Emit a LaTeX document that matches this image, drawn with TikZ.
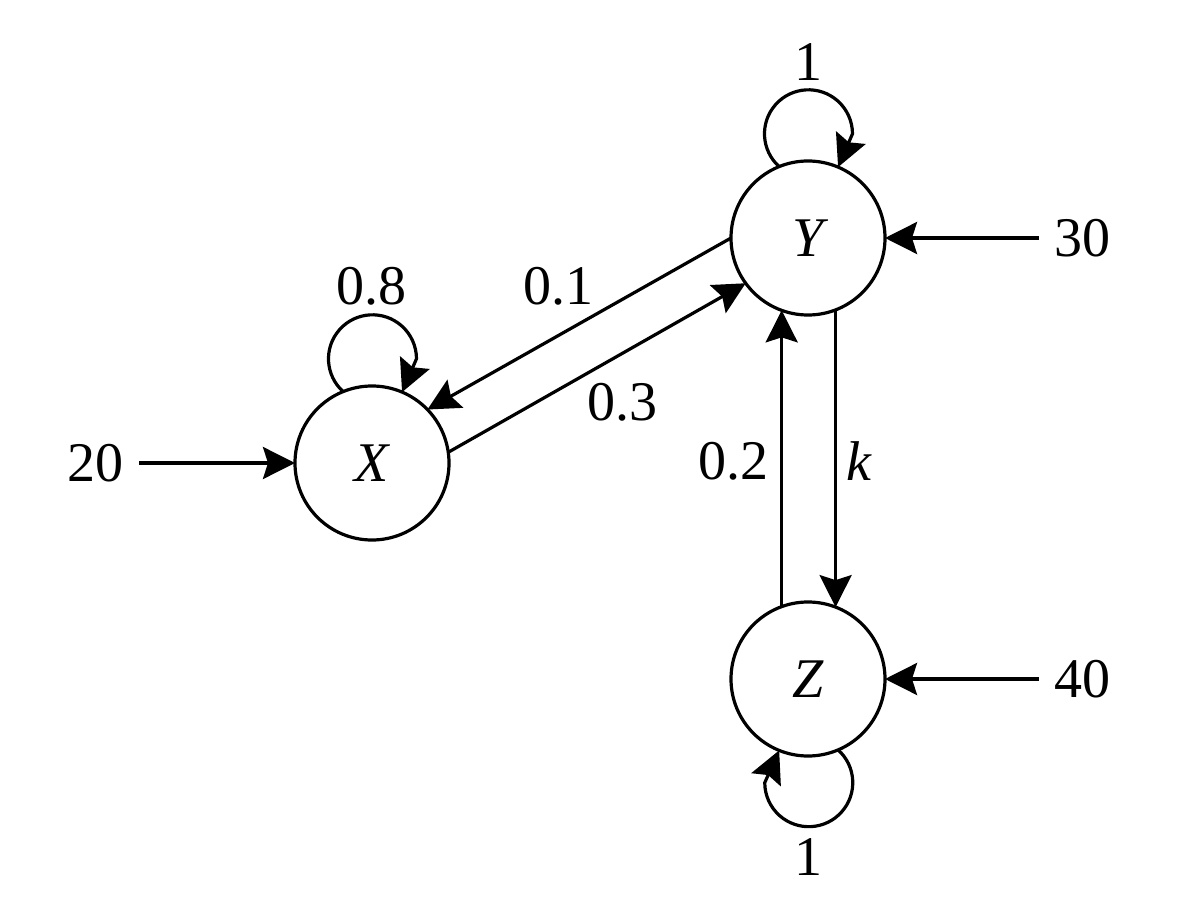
\documentclass[tikz,border=0pt]{standalone}
\usepackage{fontspec}
\setmainfont{Liberation Serif}
\usetikzlibrary{arrows.meta}
\begin{document}
\begin{tikzpicture}[x=0.5pt,y=0.5pt,
  state/.style={draw, circle, line width=1.6pt, minimum size=77pt, inner sep=0pt, outer sep=0pt, font=\fontsize{28}{34}\selectfont\itshape},
  lbl/.style={inner sep=0pt, font=\fontsize{28}{34}\selectfont},
  src/.style={inner sep=7.5pt, font=\fontsize{28}{34}\selectfont},
  edge/.style={line width=1.6pt, -{Stealth[length=16pt,width=16pt,inset=2.5pt]}}]
\useasboundingbox (0,0) rectangle (1200,896);
\node[state] (X) at (372,433) {X};
\node[state] (Y) at (808,658) {Y};
\node[state] (Z) at (808,217) {Z};
\node[src] (n20) at (96,433) {20};
\node[src] (n30) at (1082,658) {30};
\node[src] (n40) at (1082,217) {40};
% inputs
\draw[edge] (n20) -- (X);
\draw[edge] (n30) -- (Y);
\draw[edge] (n40) -- (Z);
% X <-> Y
\draw[edge] (X.8) -- (Y.216);
\draw[edge] (Y.180) -- (X.44);
% Y <-> Z
\draw[edge] (Y.-69.5) -- (Z.69.5);
\draw[edge] (Z.110.5) -- (Y.-110.5);
% loops
\draw[edge] (X.112.4) arc[start angle=228.2, end angle=0, radius=44] -- (X.67.6);
\draw[edge] (Y.112.4) arc[start angle=228.2, end angle=0, radius=44] -- (Y.67.6);
\draw[edge] (Z.-67.6) arc[start angle=48.2, end angle=-180, radius=44] -- (Z.-112.4);
% labels
\node[lbl] (l01) at (558,610) {0.1};
\node[lbl] (l03) at (622,494) {0.3};
\node[lbl] (l08) at (371,610) {0.8};
\node[lbl] (l1a) at (808,834) {1};
\node[lbl] (l1b) at (808,39) {1};
\node[lbl] (l02) at (733,435) {0.2};
\node[lbl] (lk) at (859,435) {\itshape k};
\end{tikzpicture}
\end{document}
